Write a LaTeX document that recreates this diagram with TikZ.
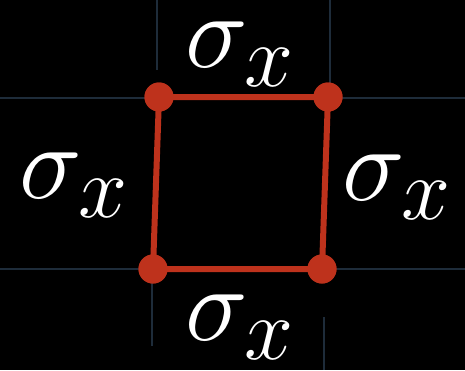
\documentclass[tikz,border=0pt]{standalone}
\definecolor{edgered}{RGB}{190,50,28}
\definecolor{gridc}{RGB}{30,44,58}
\tikzset{
  dot/.style={circle,fill=edgered,inner sep=0pt,minimum size=29pt},
  edge/.style={draw=edgered,line width=6pt},
  gridline/.style={draw=gridc,line width=1.6pt},
  lab/.style={text=white,inner sep=0pt,anchor=base west,font=\Huge,scale=4.25,transform shape}
}
\newcommand{\sx}{$\sigma_{\raisebox{-0.8pt}{$\scriptstyle x$}}$}
\begin{document}
\begin{tikzpicture}[x=1pt,y=-1pt]
\fill[black] (0,0) rectangle (465,370);
\useasboundingbox (0,0) rectangle (465,370);
% grid
\coordinate (h1a) at (0,98); \coordinate (h1b) at (465,98);
\coordinate (h2a) at (0,269); \coordinate (h2b) at (465,269);
\coordinate (v1a) at (157,0); \coordinate (v1b) at (157,70);
\coordinate (v2a) at (330,0); \coordinate (v2b) at (330,84);
\coordinate (v3a) at (152,283); \coordinate (v3b) at (152,346);
\coordinate (v4a) at (324,317); \coordinate (v4b) at (324,370);
\draw[gridline] (h1a) -- (h1b);
\draw[gridline] (h2a) -- (h2b);
\draw[gridline] (v1a) -- (v1b);
\draw[gridline] (v2a) -- (v2b);
\draw[gridline] (v3a) -- (v3b);
\draw[gridline] (v4a) -- (v4b);
% square
\node[dot] (tl) at (159,97) {};
\node[dot] (tr) at (328,97) {};
\node[dot] (bl) at (153,269) {};
\node[dot] (br) at (322,269) {};
\draw[edge] (tl.center) -- (tr.center) -- (br.center) -- (bl.center) -- cycle;
\node[dot] at (tl) {};
\node[dot] at (tr) {};
\node[dot] at (bl) {};
\node[dot] at (br) {};
% labels
\node[lab] (top) at (185,67) {\sx};
\node[lab] (left) at (19,198) {\sx};
\node[lab] (right) at (342,200) {\sx};
\node[lab] (bot) at (185,340) {\sx};
\end{tikzpicture}
\end{document}
